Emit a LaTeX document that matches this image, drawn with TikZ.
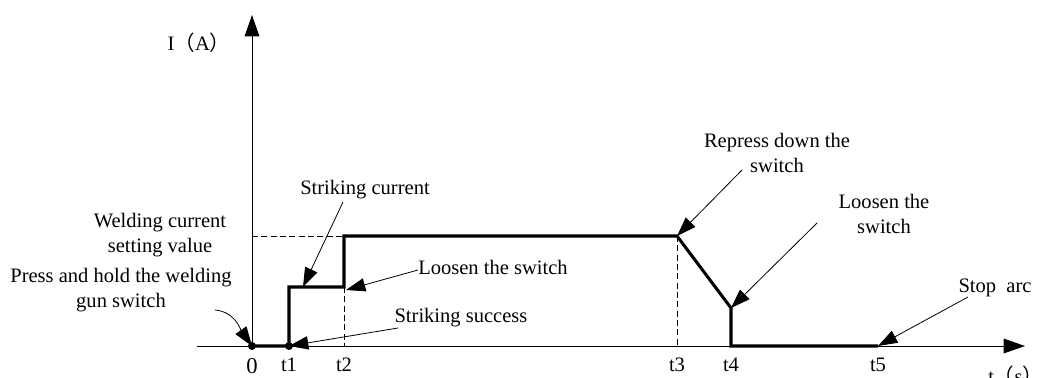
\documentclass[tikz,border=0pt]{standalone}
\usepackage{fontspec}
\setmainfont{Liberation Serif}
\newfontfamily\cjk{Noto Sans CJK SC}
\usetikzlibrary{arrows.meta}

\tikzset{
  lbl/.style={font=\fontsize{15.4}{18.4}\selectfont, align=center, inner sep=0pt},
  note/.style={-{Triangle[length=14.5pt,width=10pt]}, line width=0.6pt},
  axis/.style={line width=0.75pt, -{Triangle[length=16pt,width=11pt]}},
  weld/.style={line width=2.3pt, line join=miter},
  guide/.style={dash pattern=on 4.5pt off 2.5pt, line width=0.75pt},
}

\begin{document}
\begin{tikzpicture}[x=0.75pt,y=-0.75pt]
  \useasboundingbox (0,0) rectangle (1046,378);

  % points of the current curve
  \coordinate (O) at (252,346);
  \coordinate (t1) at (289,346);
  \coordinate (a1) at (289,287);
  \coordinate (a2) at (344,287);
  \coordinate (t2) at (344,346);
  \coordinate (a3) at (344,236);
  \coordinate (a4) at (677,236);
  \coordinate (t3) at (677,346);
  \coordinate (a5) at (731,308);
  \coordinate (t4) at (731,346);
  \coordinate (t5) at (878,346);
  \coordinate (ws) at (252,236);

  % axes
  \coordinate (xstart) at (197,346);
  \coordinate (xend) at (1025,346);
  \coordinate (yend) at (252,15);
  \draw[axis] (xstart) -- (xend);
  \draw[axis] (O) -- (yend);
  \node[lbl, anchor=center] (ylab) at (199,43) {I{\cjk （}A{\cjk ）}};
  \node[lbl, anchor=base west] (xlab) at (988,383) {t{\cjk （}s{\cjk ）}};

  % guides
  \draw[guide] (ws) -- (a3);
  \draw[guide] (a2) -- (t2);
  \draw[guide] (a4) -- (t3);

  % current
  \draw[weld] (O) -- (t1) -- (a1) -- (a2) -- (a3) -- (a4) -- (a5) -- (t4) -- (t5);
  \fill (O) circle (3pt);
  \fill (t1) circle (3pt);

  % time marks
  \node[lbl] (l0) at (252,366) {\fontsize{17}{18}\selectfont 0};
  \foreach \n/\x in {1/289,2/344,3/677,4/731,5/878}
    \node[lbl] (lt\n) at (\x,365) {t\n};

  % notes
  \node[lbl] (wcs) at (160,235) {Welding current\\setting value};
  \node[lbl] (press) at (121,290) {Press and hold the welding\\gun switch};
  \node[lbl] (strcur) at (365,190) {Striking current};
  \node[lbl, anchor=west] (loose1) at (418,267) {Loosen the switch};
  \node[lbl] (strsucc) at (461,318) {Striking success};
  \node[lbl] (repress) at (777,153) {Repress down the\\switch};
  \node[lbl] (loose2) at (884,214) {Loosen the\\switch};
  \node[lbl] (stop) at (995,288) {Stop\ \ arc};

  \coordinate (c1) at (343,202);
  \coordinate (p1) at (303,287);
  \coordinate (c2) at (215,310);
  \coordinate (c3) at (418,270);
  \coordinate (p3) at (346,290);
  \coordinate (c4) at (398,328);
  \coordinate (c5) at (742,170);
  \coordinate (c6) at (817,223);
  \coordinate (c7) at (968,297);

  \draw[note] (c1) -- (p1);
  \draw[note] (c2) to[out=-5,in=125] (O);
  \draw[note] (c3) -- (p3);
  \draw[note] (c4) -- (t1);
  \draw[note] (c5) -- (a4);
  \draw[note] (c6) -- (a5);
  \draw[note] (c7) -- (t5);
\end{tikzpicture}
\end{document}
